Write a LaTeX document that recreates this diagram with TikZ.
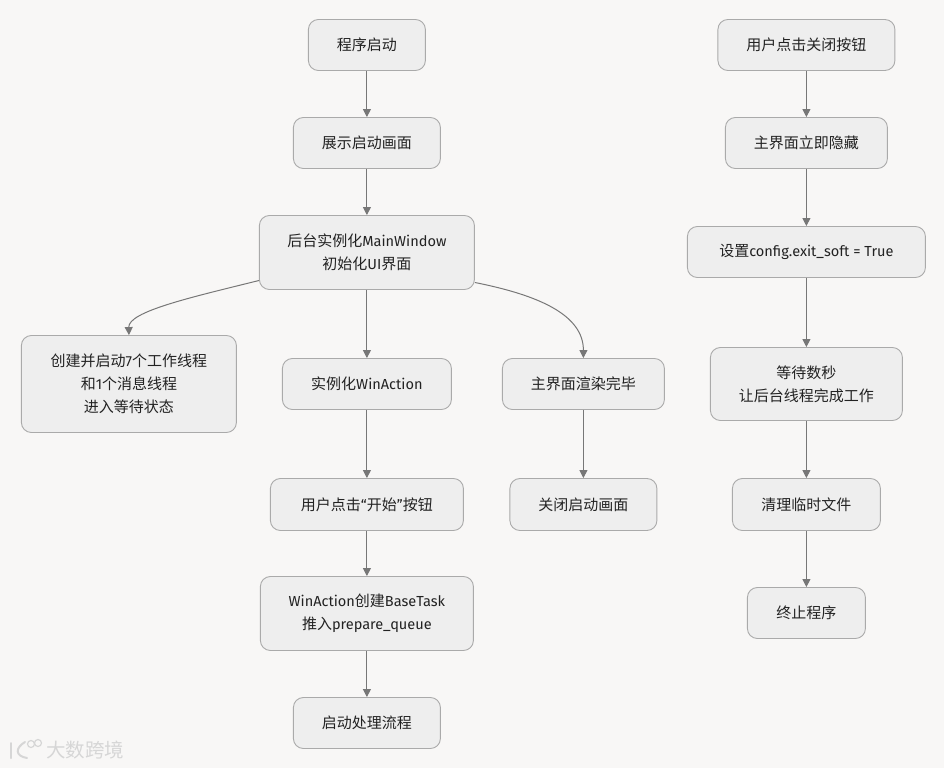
\documentclass[tikz,border=0pt]{standalone}
\usepackage{fontspec}
\setmainfont{Noto Sans CJK SC}
\newfontfamily\lat[Scale=0.97]{Fira Sans}
\newcommand{\La}[1]{{\lat #1}}
\usetikzlibrary{arrows.meta}
\definecolor{bgc}{HTML}{F8F7F6}
\definecolor{boxc}{HTML}{EEEEEE}
\definecolor{linec}{HTML}{AAAAAA}
\definecolor{edgec}{HTML}{777777}
\definecolor{txtc}{HTML}{222222}
\definecolor{wmc}{HTML}{D6D6D6}
\tikzset{
  x=1pt,y=-1pt,
  box/.style={draw=linec,fill=boxc,rounded corners=10pt,line width=0.9pt,inner sep=0pt,align=center,
    text=txtc,font=\fontsize{15}{23}\selectfont},
  link/.style={draw=edgec,line width=1pt,-{Triangle[length=8pt,width=8pt]}},
  mark text/.style={text=wmc,font=\fontsize{19.5}{20}\selectfont,inner sep=0pt}
}
\begin{document}
\begin{tikzpicture}
\path[use as bounding box,fill=bgc] (0,0) rectangle (944,768);
\begin{scope}[shift={(0.4,0.5)}]
% left column
\node[box,minimum width=117pt,minimum height=51pt] (a1) at (366.5,44.5) {程序启动};
\node[box,minimum width=147pt,minimum height=51pt] (a2) at (366.5,142.5) {展示启动画面};
\node[box,minimum width=215pt,minimum height=74pt] (a3) at (366.5,252) {后台实例化\La{MainWindow}\\初始化\La{UI}界面};
\node[box,minimum width=215pt,minimum height=97pt] (b1) at (128.5,383.5) {创建并启动\La{7}个工作线程\\和\La{1}个消息线程\\进入等待状态};
\node[box,minimum width=169pt,minimum height=51pt] (a4) at (366.5,383.5) {实例化\La{WinAction}};
\node[box,minimum width=162pt,minimum height=51pt] (c1) at (583,383.5) {主界面渲染完毕};
\node[box,minimum width=193pt,minimum height=52pt] (a5) at (366.5,504) {用户点击\La{“}开始\La{”}按钮};
\node[box,minimum width=213pt,minimum height=74pt] (a6) at (366.5,613) {\La{WinAction}创建\La{BaseTask}\\推入\La{prepare\_queue}};
\node[box,minimum width=147pt,minimum height=51pt] (a7) at (366.5,722.5) {启动处理流程};
\node[box,minimum width=147pt,minimum height=52pt] (c2) at (583,504) {关闭启动画面};
% right column
\node[box,minimum width=177pt,minimum height=51pt] (r1) at (806,44.5) {用户点击关闭按钮};
\node[box,minimum width=162pt,minimum height=51pt] (r2) at (806,142.5) {主界面立即隐藏};
\node[box,minimum width=238pt,minimum height=51pt] (r3) at (806,251.5) {设置\La{config.exit\_soft = True}};
\node[box,minimum width=192pt,minimum height=73pt] (r4) at (806,383.5) {等待数秒\\让后台线程完成工作};
\node[box,minimum width=148pt,minimum height=52pt] (r5) at (806,504) {清理临时文件};
\node[box,minimum width=118pt,minimum height=51pt] (r6) at (806,612.5) {终止程序};
% connectors
\draw[link] (a1) -- (a2);
\draw[link] (a2) -- (a3);
\draw[link] (a3) -- (a4);
\draw[link] (a4) -- (a5);
\draw[link] (a5) -- (a6);
\draw[link] (a6) -- (a7);
\draw[link] (c1) -- (c2);
\draw[link] (r1) -- (r2);
\draw[link] (r2) -- (r3);
\draw[link] (r3) -- (r4);
\draw[link] (r4) -- (r5);
\draw[link] (r5) -- (r6);
\draw[link] ([yshift=-28pt]a3.center -| a3.west) .. controls (190,297) and (128,311) .. (b1.north);
\draw[link] ([yshift=-30pt]a3.center -| a3.east) .. controls (540,295) and (583,315) .. (c1.north);
\end{scope}
% watermark
\node[mark text,anchor=center] (wm) at (85,750) {大数跨境};
\draw[wmc,line width=2pt,line cap=round] (11,743) -- (11,758);
\draw[wmc,line width=2pt,line cap=round] (25,742) .. controls (15,748) and (15,756) .. (27,758);
\draw[wmc,line width=1.2pt] (31,744) circle (3.5);
\draw[wmc,line width=1.2pt] (38,743) circle (3.5);
\end{tikzpicture}
\end{document}
